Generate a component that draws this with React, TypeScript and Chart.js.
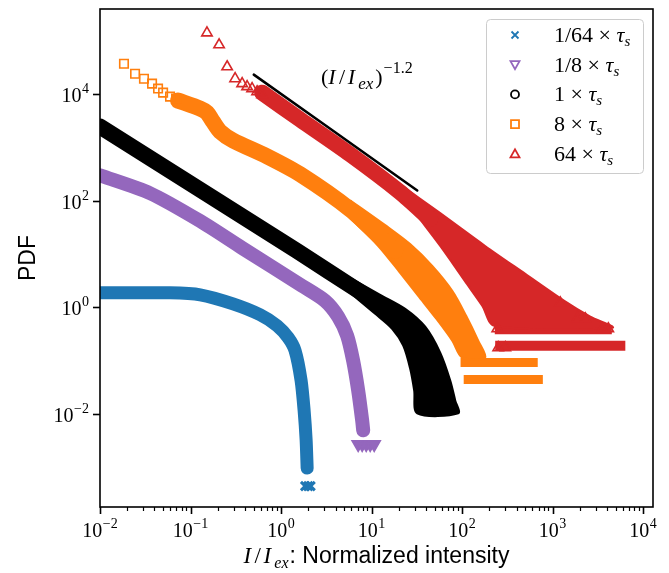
import React, { useEffect, useRef } from 'react';
import { Chart, registerables } from 'chart.js';

Chart.register(...registerables);

// ---- 1/64 x tau_s (blue) ----
const blueX = [0.01, 0.0594, 0.128, 0.295, 0.588, 0.906, 1.2, 1.43, 1.667, 1.8, 1.895, 1.944];
const blueY = [1.88, 1.88, 1.73, 1.17, 0.731, 0.456, 0.272, 0.156, 0.043, 0.0118, 0.00326, 0.00098];
const blueTailX = [1.85, 2.0, 2.12];
const blueTailY = [0.00045, 0.00045, 0.00045];

// ---- 1/8 x tau_s (purple) ----
const purpleX = [0.01, 0.0357, 0.128, 0.372, 1.71, 3.07, 4.28, 5.38, 6.27, 7.12, 7.88, 8.09];
const purpleY = [299, 138, 41.5, 13.0, 2.54, 1.33, 0.671, 0.296, 0.1, 0.0279, 0.00769, 0.00501];
const purpleTailX = [7.12, 7.88, 8.73, 9.66, 10.7];
const purpleTailY = [0.00274, 0.00274, 0.00274, 0.00274, 0.00274];

// ---- 1 x tau_s (black) ----
const blackX = [0.01, 1.507, 7.49, 12.47];
const blackY = [2443, 11.4, 1.96, 1.12];
// envelope of the widening low-count tail: outer edge down, inner edge back up
const blackTailX = [5.81, 12.47, 23.55, 39.2, 57.4, 74.1, 84.1, 90.8, 32.0, 29.6, 26.7, 22.4, 16.9, 10.97, 5.81];
const blackTailY = [3.58, 1.73, 0.946, 0.436, 0.143, 0.043, 0.0182, 0.0104, 0.0104, 0.0279, 0.0718, 0.193, 0.4, 0.762, 1.88];

// ---- 8 x tau_s (orange) ----
const orangeSparseX = [0.0184, 0.0244, 0.0306, 0.0376, 0.0438, 0.0498, 0.0594, 0.0692];
const orangeSparseY = [36700, 23900, 19300, 15600, 12600, 10600, 8900, 8170];
const orangeX = [0.0728, 0.128, 0.152, 0.177, 0.212, 0.295, 0.701, 1.626, 5.81, 18.24];
const orangeY = [7500, 5320, 4480, 3040, 1980, 1345, 676, 312, 68.2, 11.4];
const orangeTailX = [5.81, 14.16, 26.7, 46.9, 78.0, 111, 151, 180, 100.5, 78.0, 51.9, 32.8, 20.7, 11.86, 5.81];
const orangeTailY = [102, 34.9, 15.4, 6.0, 2.05, 0.7, 0.239, 0.115, 0.115, 0.239, 0.615, 1.65, 4.44, 14.2, 47.2];
const orangeFloor1X = [108, 612];
const orangeFloor1Y = [0.093, 0.093];
const orangeFloor2X = [117, 697];
const orangeFloor2Y = [0.0448, 0.0448];

// ---- 64 x tau_s (red) ----
const redSparseX = [0.152, 0.207, 0.254, 0.311, 0.372, 0.422, 0.479, 0.544, 0.618];
const redSparseY = [139000, 83200, 32300, 19300, 15600, 13700, 12600, 11000, 9700];
const redX = [0.618, 1.626, 5.81, 20.7, 44.5];
const redY = [10570, 3319, 738, 144, 45.2];
const redTailX = [20.7, 57.4, 180, 500, 1349, 2612, 4581, 227, 167, 111, 78.0, 57.4, 39.2, 28.1, 20.7];
const redTailY = [203, 58.5, 14.2, 4.26, 1.33, 0.671, 0.418, 0.456, 1.08, 2.89, 6.82, 14.2, 33.4, 68.2, 102];
const redFloor1X = [258, 4030];
const redFloor1Y = [0.384, 0.384];
const redFloor2X = [264, 5610];
const redFloor2Y = [0.193, 0.193];
const redEdgeX = [1218, 1879, 2301, 3548, 4130, 245, 251, 301];
const redEdgeY = [1.22, 0.615, 0.615, 0.4, 0.4, 0.4, 0.177, 0.177];

// ---- reference power law (I/I_ex)^-1.2 ----
const guideX = [0.5, 32];
const guideY = [23000, 156];

// ---- axes ----
const X_MIN = 0.01;
const X_MAX = Math.pow(10, 4.11);
const Y_MIN = Math.pow(10, -3.737);
const Y_MAX = Math.pow(10, 5.591);
const xDecades = [-2, -1, 0, 1, 2, 3, 4];
const yDecades = [-2, 0, 2, 4];

const seriesNames = ['1/64', '1/8', '1', '8', '64'];
const seriesColors = ['#1f77b4', '#9467bd', '#000000', '#ff7f0e', '#d62728'];
const seriesMarkers = ['crossRot', 'triangleDown', 'circle', 'rect', 'triangle'];

const SERIF = '"Liberation Serif", "Times New Roman", serif';
const SANS = '"Liberation Sans", Arial, sans-serif';

const pts = (xs: number[], ys: number[]) => xs.map((x, i) => ({ x, y: ys[i] }));

function band(xs: number[], ys: number[], color: string, width: number) {
  return {
    data: pts(xs, ys),
    showLine: true,
    borderColor: color,
    backgroundColor: color,
    borderWidth: width,
    borderCapStyle: 'round',
    borderJoinStyle: 'round',
    tension: 0.25,
    pointRadius: 0,
    pointHoverRadius: 0,
    clip: 0,
  };
}

function shape(xs: number[], ys: number[], color: string) {
  return {
    data: pts(xs, ys),
    showLine: true,
    fill: 'shape',
    borderColor: color,
    backgroundColor: color,
    borderWidth: 2,
    borderJoinStyle: 'round',
    tension: 0.3,
    pointRadius: 0,
    pointHoverRadius: 0,
    clip: 0,
  };
}

function floor(xs: number[], ys: number[], color: string, width: number) {
  return {
    data: pts(xs, ys),
    showLine: true,
    borderColor: color,
    backgroundColor: color,
    borderWidth: width,
    borderCapStyle: 'square',
    pointRadius: 0,
    pointHoverRadius: 0,
    clip: 0,
  };
}

function markers(xs: number[], ys: number[], color: string, style: string, r: number, rotation = 0, filled = false, lw = 1.6) {
  return {
    data: pts(xs, ys),
    showLine: false,
    pointStyle: style,
    pointRotation: rotation,
    pointRadius: r,
    pointHoverRadius: r,
    pointBorderWidth: lw,
    pointBorderColor: color,
    pointBackgroundColor: filled ? color : 'rgba(0,0,0,0)',
    clip: 0,
  };
}

type Run = { t: string; f: string; dy?: number; gap?: number };

function runsWidth(ctx: CanvasRenderingContext2D, runs: Run[]) {
  let w = 0;
  for (const r of runs) {
    ctx.font = r.f;
    w += (r.gap || 0) + ctx.measureText(r.t).width;
  }
  return w;
}

function drawRuns(ctx: CanvasRenderingContext2D, runs: Run[], x: number, baseline: number, align: 'left' | 'center' | 'right') {
  const w = runsWidth(ctx, runs);
  let cx = align === 'left' ? x : align === 'center' ? x - w / 2 : x - w;
  ctx.textAlign = 'left';
  ctx.textBaseline = 'alphabetic';
  for (const r of runs) {
    ctx.font = r.f;
    cx += r.gap || 0;
    ctx.fillText(r.t, cx, baseline + (r.dy || 0));
    cx += ctx.measureText(r.t).width;
  }
}

function powLabel(e: number): Run[] {
  const sup = e < 0 ? '\u2212' + Math.abs(e) : String(e);
  return [
    { t: '10', f: `20px ${SERIF}` },
    { t: sup, f: `14px ${SERIF}`, dy: -9, gap: 0.5 },
  ];
}

function ratioRuns(size: number, sub: number): Run[] {
  const it = `italic ${size}px ${SERIF}`;
  const rm = `${size}px ${SERIF}`;
  return [
    { t: 'I', f: it },
    { t: '/', f: rm, gap: 3.4 },
    { t: 'I', f: it, gap: 2.5 },
    { t: 'ex', f: `italic ${sub}px ${SERIF}`, dy: 5, gap: 3.2 },
  ];
}

function drawMarker(ctx: CanvasRenderingContext2D, kind: string, x: number, y: number, color: string) {
  ctx.save();
  ctx.strokeStyle = color;
  ctx.lineWidth = 1.8;
  ctx.beginPath();
  if (kind === 'crossRot') {
    ctx.moveTo(x - 3.5, y - 3.5); ctx.lineTo(x + 3.5, y + 3.5);
    ctx.moveTo(x + 3.5, y - 3.5); ctx.lineTo(x - 3.5, y + 3.5);
  } else if (kind === 'triangleDown') {
    ctx.moveTo(x - 4.5, y - 3.5); ctx.lineTo(x + 4.5, y - 3.5); ctx.lineTo(x, y + 4.5); ctx.closePath();
  } else if (kind === 'triangle') {
    ctx.moveTo(x - 4.5, y + 3.5); ctx.lineTo(x + 4.5, y + 3.5); ctx.lineTo(x, y - 4.5); ctx.closePath();
  } else if (kind === 'circle') {
    ctx.arc(x, y, 4, 0, Math.PI * 2);
  } else {
    ctx.rect(x - 4, y - 4, 8, 8);
  }
  ctx.stroke();
  ctx.restore();
}

const decorPlugin = {
  id: 'decor',
  afterDatasetsDraw(chart: any) {
    const { ctx, chartArea: a, scales } = chart;
    const xs = scales.x;
    const ys = scales.y;
    ctx.save();
    ctx.fillStyle = '#000';
    ctx.strokeStyle = '#000';

    // frame
    ctx.lineWidth = 1.6;
    ctx.strokeRect(a.left, a.top, a.right - a.left, a.bottom - a.top);

    // x ticks: majors per decade, minors at 2..9
    for (const d of xDecades) {
      for (let m = 1; m <= 9; m++) {
        const v = m * Math.pow(10, d);
        if (v < X_MIN || v > X_MAX) continue;
        const px = Math.round(xs.getPixelForValue(v)) + 0.5;
        const len = m === 1 ? 7 : 4;
        ctx.lineWidth = m === 1 ? 1.6 : 1.2;
        ctx.beginPath();
        ctx.moveTo(px, a.bottom);
        ctx.lineTo(px, a.bottom + len);
        ctx.stroke();
      }
      const px = xs.getPixelForValue(Math.pow(10, d));
      drawRuns(ctx, powLabel(d), px, 537, 'center');
    }

    // y ticks
    for (const d of yDecades) {
      const py = Math.round(ys.getPixelForValue(Math.pow(10, d))) + 0.5;
      ctx.lineWidth = 1.6;
      ctx.beginPath();
      ctx.moveTo(a.left, py);
      ctx.lineTo(a.left - 7, py);
      ctx.stroke();
      drawRuns(ctx, powLabel(d), a.left - 11, py + 7, 'right');
    }

    // axis titles
    drawRuns(
      ctx,
      [...ratioRuns(23, 16), { t: ': Normalized intensity', f: `23px ${SANS}`, gap: 1 }],
      (a.left + a.right) / 2,
      563,
      'center'
    );
    ctx.save();
    ctx.translate(35, (a.top + a.bottom) / 2);
    ctx.rotate(-Math.PI / 2);
    ctx.font = `23px ${SANS}`;
    ctx.textAlign = 'center';
    ctx.textBaseline = 'alphabetic';
    ctx.fillText('PDF', 0, 0);
    ctx.restore();

    // power-law annotation
    drawRuns(
      ctx,
      [
        { t: '(', f: `22px ${SERIF}` },
        ...ratioRuns(22, 17),
        { t: ')', f: `22px ${SERIF}`, gap: 2 },
        { t: '\u22121.2', f: `16px ${SERIF}`, dy: -11, gap: 1 },
      ],
      321,
      84,
      'left'
    );

    // legend
    const lx = 486, ly = 19, lw = 157, lh = 154;
    ctx.beginPath();
    ctx.roundRect(lx + 0.5, ly + 0.5, lw, lh, 4);
    ctx.fillStyle = 'rgba(255,255,255,0.8)';
    ctx.fill();
    ctx.strokeStyle = '#cccccc';
    ctx.lineWidth = 1;
    ctx.stroke();
    ctx.fillStyle = '#000';
    seriesNames.forEach((name, i) => {
      const cy = 35 + i * 29.7;
      drawMarker(ctx, seriesMarkers[i], 515, cy, seriesColors[i]);
      drawRuns(
        ctx,
        [
          { t: name + ' \u00d7 ', f: `22px ${SERIF}` },
          { t: '\u03c4', f: `italic 22px ${SERIF}` },
          { t: 's', f: `italic 15px ${SERIF}`, dy: 4 },
        ],
        554,
        cy + 7,
        'left'
      );
    });

    ctx.restore();
  },
};

export default function App() {
  const ref = useRef<HTMLCanvasElement>(null);

  useEffect(() => {
    document.body.style.margin = '0';
    const [blue, purple, black, orange, red] = seriesColors;
    // earlier entries are painted last (on top)
    const datasets: any[] = [
      band(guideX, guideY, '#000000', 2.5),
      markers(redEdgeX, redEdgeY, red, 'triangle', 6),
      markers(redSparseX, redSparseY, red, 'triangle', 6),
      band(redX, redY, red, 16),
      shape(redTailX, redTailY, red),
      floor(redFloor1X, redFloor1Y, red, 9),
      floor(redFloor2X, redFloor2Y, red, 10),
      markers(orangeSparseX, orangeSparseY, orange, 'rect', 6),
      band(orangeX, orangeY, orange, 16),
      shape(orangeTailX, orangeTailY, orange),
      floor(orangeFloor1X, orangeFloor1Y, orange, 9),
      floor(orangeFloor2X, orangeFloor2Y, orange, 9),
      band(blackX, blackY, black, 16),
      shape(blackTailX, blackTailY, black),
      band(purpleX, purpleY, purple, 14),
      markers(purpleTailX, purpleTailY, purple, 'triangle', 7, 180, true),
      band(blueX, blueY, blue, 13),
      markers(blueTailX, blueTailY, blue, 'crossRot', 6, 0, false, 3),
    ];

    const chart = new Chart(ref.current!, {
      type: 'scatter',
      data: { datasets },
      options: {
        animation: false,
        responsive: false,
        devicePixelRatio: 1,
        events: [],
        layout: { padding: { left: 100, top: 7, right: 16, bottom: 66 } },
        plugins: { legend: { display: false }, tooltip: { enabled: false } },
        scales: {
          x: { type: 'logarithmic', min: X_MIN, max: X_MAX, display: false },
          y: { type: 'logarithmic', min: Y_MIN, max: Y_MAX, display: false },
        },
      },
      plugins: [decorPlugin],
    } as any);
    return () => chart.destroy();
  }, []);

  return (
    <div style={{ position: 'absolute', left: 0, top: 0, width: 669, height: 573, background: '#fff' }}>
      <canvas ref={ref} width={669} height={573} style={{ display: 'block', width: 669, height: 573 }} />
    </div>
  );
}
